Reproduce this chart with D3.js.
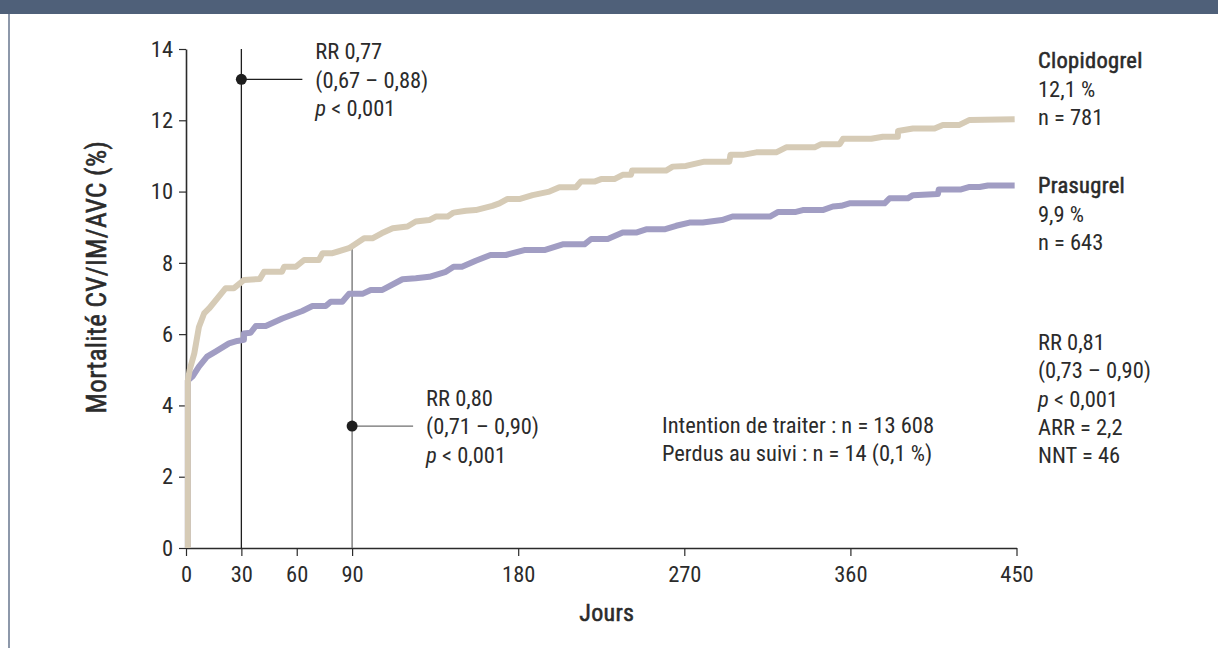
<!DOCTYPE html>
<html lang="fr">
<head>
<meta charset="utf-8">
<script src="https://cdn.jsdelivr.net/npm/d3@7"></script>
<style>
  html, body { margin: 0; padding: 0; background: #ffffff; }
  svg { display: block; }
  text { font-family: "Liberation Sans Narrow", "Roboto Condensed", "Liberation Sans", Arial, sans-serif; fill: #2b2b2b; }
  .medium { stroke: #2b2b2b; stroke-width: 0.55px; letter-spacing: 0.3px; }
</style>
</head>
<body>
<svg id="chart" width="1218" height="648"></svg>
<script>
// Cumulative CV death / MI / stroke (%) by day — [day, value]
const clopidogrel = [
  [1, 0], [1, 4.7], [2, 5.0], [4.5, 5.46], [7, 6.2], [9.8, 6.58], [12.5, 6.72],
  [21.5, 7.29], [26, 7.29], [31.4, 7.52], [40, 7.55], [42.3, 7.75], [52, 7.75],
  [53.2, 7.89], [59.5, 7.89], [64, 8.08], [72, 8.08], [74, 8.27], [79.4, 8.27],
  [88.3, 8.41], [91, 8.5], [96.5, 8.69], [101, 8.69], [106, 8.83], [112, 8.97],
  [120, 9.02], [124.5, 9.16], [131.8, 9.2], [135.4, 9.3], [141.8, 9.3], [145, 9.41],
  [151.7, 9.46], [157, 9.48], [166, 9.6], [169.8, 9.67], [174, 9.79], [180.6, 9.79],
  [187.8, 9.9], [196.9, 10.0], [202.3, 10.12], [211.3, 10.12], [214, 10.28],
  [221.3, 10.28], [224.9, 10.35], [232.1, 10.35], [236.6, 10.47], [241.1, 10.47],
  [241.7, 10.59], [260.1, 10.59], [263.7, 10.7], [270.9, 10.72], [280.9, 10.84],
  [294.4, 10.84], [295, 11.03], [301.7, 11.03], [309, 11.1], [319.8, 11.1],
  [325.2, 11.24], [340.6, 11.24], [344.2, 11.33], [354.2, 11.33], [356, 11.48],
  [371.3, 11.48], [377.6, 11.54], [385.7, 11.54], [385.8, 11.7], [393.9, 11.77],
  [405.6, 11.77], [410.1, 11.87], [419.1, 11.87], [424.6, 12.01], [449, 12.03]
];

const prasugrel = [
  [1, 0], [1, 4.7], [3.5, 4.81], [7, 5.09], [11.4, 5.37], [16, 5.51], [23.3, 5.74],
  [27.8, 5.81], [31.4, 5.84], [31.4, 6.02], [35, 6.04], [37.8, 6.23], [43.2, 6.23],
  [52.2, 6.44], [63, 6.65], [68.5, 6.79], [75.7, 6.79], [78.4, 6.91], [84.7, 6.91],
  [88.3, 7.13], [95.6, 7.13], [100.1, 7.24], [106.4, 7.24], [117.3, 7.54],
  [124.5, 7.57], [131.8, 7.61], [140.8, 7.75], [145, 7.89], [149.5, 7.89],
  [157, 8.06], [165, 8.22], [173.3, 8.22], [183.3, 8.36], [194.2, 8.36],
  [204.1, 8.52], [215.9, 8.52], [219.5, 8.67], [228.5, 8.67], [236.6, 8.85],
  [243.9, 8.85], [249.3, 8.94], [259.2, 8.94], [265.6, 9.04], [272.8, 9.13],
  [280, 9.13], [290.4, 9.2], [296.1, 9.3], [316.4, 9.3], [320.9, 9.43],
  [330.5, 9.43], [334.2, 9.48], [345, 9.48], [350.5, 9.58], [355, 9.6],
  [359.5, 9.67], [378.5, 9.67], [381.2, 9.81], [391.1, 9.81], [393.9, 9.9],
  [407.4, 9.93], [407.9, 10.06], [420, 10.06], [424.6, 10.13], [430, 10.13],
  [434.5, 10.17], [449, 10.17]
];

const xTicks = [0, 30, 60, 90, 180, 270, 360, 450];
const yTicks = [0, 2, 4, 6, 8, 10, 12, 14];

// Risk-ratio markers: day of the landmark, y of the dot, text lines
const landmarks = [
  { day: 30, dot: 13.15, top: 14, color: "#1e1e1e", lines: ["RR 0,77", "(0,67 – 0,88)", "p < 0,001"] },
  { day: 90, dot: 3.42, top: null, color: "#6f6f6f", lines: ["RR 0,80", "(0,71 – 0,90)", "p < 0,001"] }
];

const seriesLabels = [
  { name: "Clopidogrel", lines: ["12,1 %", "n = 781"] },
  { name: "Prasugrel", lines: ["9,9 %", "n = 643"] }
];
const overallStats = ["RR 0,81", "(0,73 – 0,90)", "p < 0,001", "ARR = 2,2", "NNT = 46"];
const studyNotes = ["Intention de traiter : n = 13 608", "Perdus au suivi : n = 14 (0,1 %)"];

const svg = d3.select("#chart");
const W = 1218, H = 648;
const FONT = '"Liberation Sans Narrow", "Roboto Condensed", "Liberation Sans", Arial, sans-serif';

// page frame: header band and left rule
svg.append("rect").attr("x", 0).attr("y", 0).attr("width", W).attr("height", 14).attr("fill", "#4f6079");
svg.append("rect").attr("x", 8).attr("y", 14).attr("width", 2).attr("height", H - 14).attr("fill", "#8d98aa");

const x = d3.scaleLinear().domain([0, 450]).range([186, 1016.5]);
const y = d3.scaleLinear().domain([0, 14]).range([548, 49]);
const LH = 28.3;
const fs = 22.5;

// axes
const xAxis = svg.append("g").attr("transform", `translate(0,${y(0)})`)
  .call(d3.axisBottom(x).tickValues(xTicks).tickSize(8).tickSizeOuter(0).tickPadding(10));
const yAxis = svg.append("g").attr("transform", `translate(${x(0)},0)`)
  .call(d3.axisLeft(y).tickValues(yTicks).tickSize(7).tickSizeOuter(0).tickPadding(6));
[xAxis, yAxis].forEach(g => {
  g.attr("font-family", FONT).attr("font-size", fs);
  g.select(".domain").attr("stroke", "#2b2b2b").attr("stroke-width", 1.6);
  g.selectAll(".tick line").attr("stroke", "#2b2b2b").attr("stroke-width", 1.2);
  g.selectAll(".tick text").attr("fill", "#2b2b2b");
});

// axis titles
svg.append("text").attr("class", "medium").attr("x", x(228)).attr("y", 621).attr("text-anchor", "middle")
  .attr("font-size", 24).text("Jours");
svg.append("text").attr("class", "medium").attr("transform", `translate(106,${y(7.6)}) rotate(-90)`)
  .attr("text-anchor", "middle").attr("font-size", 27).text("Mortalité CV/IM/AVC (%)");

// landmark guides
const interp = (data, d) => {
  const i = d3.bisector(p => p[0]).left(data, d);
  const a = data[i - 1], b = data[i];
  return a[1] + (b[1] - a[1]) * (d - a[0]) / (b[0] - a[0]);
};
const addLines = (t, x0, lines) => {
  lines.forEach((l, i) => {
    const ts = t.append("tspan").attr("x", x0).attr("dy", i === 0 ? 0 : LH);
    if (l.startsWith("p ")) {
      ts.append("tspan").attr("font-style", "italic").text("p");
      ts.append("tspan").text(l.slice(1));
    } else ts.text(l);
  });
};
landmarks.forEach(m => {
  const top = m.top != null ? m.top : interp(clopidogrel, m.day);
  const g = svg.append("g");
  g.append("line").attr("x1", x(m.day)).attr("x2", x(m.day)).attr("y1", y(top)).attr("y2", y(0))
    .attr("stroke", m.color).attr("stroke-width", 1.3);
  g.append("line").attr("x1", x(m.day)).attr("x2", x(m.day) + 61).attr("y1", y(m.dot)).attr("y2", y(m.dot))
    .attr("stroke", m.color).attr("stroke-width", 1.3);
  g.append("circle").attr("cx", x(m.day)).attr("cy", y(m.dot)).attr("r", 5.5).attr("fill", "#1e1e1e");
  const t = g.append("text").attr("x", x(m.day) + 74).attr("y", y(m.dot) - 20).attr("font-size", fs);
  addLines(t, x(m.day) + 74, m.lines);
});

// survival curves
const line = d3.line().x(d => x(d[0])).y(d => y(d[1]));
svg.append("path").datum(prasugrel).attr("d", line).attr("fill", "none")
  .attr("stroke", "#a19dc3").attr("stroke-width", 6).attr("stroke-linejoin", "round");
svg.append("path").datum(clopidogrel).attr("d", line).attr("fill", "none")
  .attr("stroke", "#d6cbb6").attr("stroke-width", 6).attr("stroke-linejoin", "round");

// series labels at right
const labelX = 1038;
[[seriesLabels[0], 68.3], [seriesLabels[1], 193.3]].forEach(([s, by]) => {
  const t = svg.append("text").attr("x", labelX).attr("y", by).attr("font-size", fs);
  t.append("tspan").attr("x", labelX).attr("class", "medium").text(s.name);
  s.lines.forEach(l => t.append("tspan").attr("x", labelX).attr("dy", LH).text(l));
});

// overall statistics
const st = svg.append("text").attr("x", labelX).attr("y", 350).attr("font-size", fs);
addLines(st, labelX, overallStats);

// study notes
const nt = svg.append("text").attr("x", 662).attr("y", 432.5).attr("font-size", fs);
addLines(nt, 662, studyNotes);
</script>
</body>
</html>
